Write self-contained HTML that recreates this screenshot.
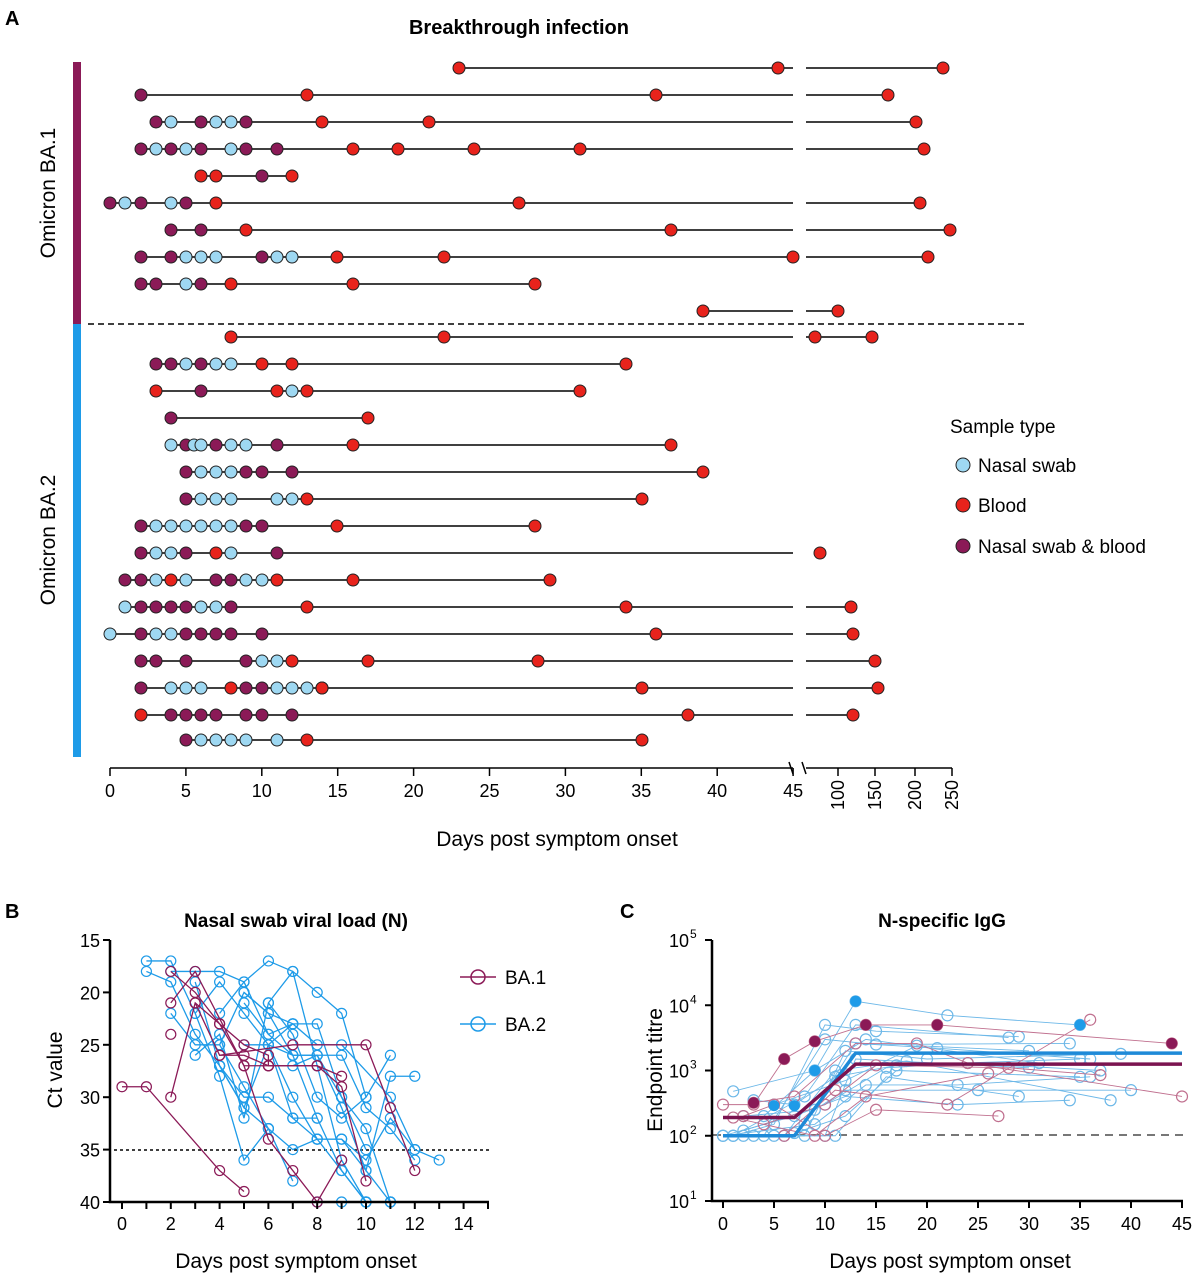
<!DOCTYPE html>
<html><head><meta charset="utf-8"><style>
body{margin:0;background:#fff;width:1197px;height:1279px;overflow:hidden}
svg{font-family:"Liberation Sans",Arial,sans-serif}
</style></head><body>
<svg id="s" width="1197" height="1279" viewBox="0 0 1197 1279" xmlns="http://www.w3.org/2000/svg">
<text x="5" y="25" font-size="20" font-weight="bold">A</text>
<text x="519" y="34" font-size="20" font-weight="bold" text-anchor="middle">Breakthrough infection</text>
<rect x="73" y="62" width="8" height="262" fill="#8B1A57"/>
<rect x="73" y="324" width="8" height="433" fill="#1E9BE8"/>
<text transform="translate(55,193) rotate(-90)" font-size="21" text-anchor="middle">Omicron BA.1</text>
<text transform="translate(55,540) rotate(-90)" font-size="21" text-anchor="middle">Omicron BA.2</text>
<line x1="88" y1="324" x2="1025" y2="324" stroke="#000" stroke-width="1.5" stroke-dasharray="6,4"/>
<g id="A"></g>
<line x1="110" y1="768" x2="793" y2="768" stroke="#000" stroke-width="1.5"/>
<line x1="806" y1="768" x2="952" y2="768" stroke="#000" stroke-width="1.5"/>
<line x1="789" y1="762" x2="793" y2="774" stroke="#000" stroke-width="1.5"/>
<line x1="802" y1="762" x2="806" y2="774" stroke="#000" stroke-width="1.5"/>
<g id="Aticks" font-size="18"></g>
<text x="557" y="846" font-size="21" text-anchor="middle">Days post symptom onset</text>
<text x="950" y="433" font-size="19">Sample type</text>
<circle cx="963" cy="465" r="7" fill="#9ED8F2" stroke="#222"/><text x="978" y="472" font-size="19">Nasal swab</text>
<circle cx="963" cy="505" r="7" fill="#E8231C" stroke="#222"/><text x="978" y="512" font-size="19">Blood</text>
<circle cx="963" cy="546" r="7" fill="#8B1A57" stroke="#222"/><text x="978" y="553" font-size="19">Nasal swab &amp; blood</text>
<text x="5" y="918" font-size="20" font-weight="bold">B</text>
<text x="296" y="927" font-size="19" font-weight="bold" text-anchor="middle">Nasal swab viral load (N)</text>
<text transform="translate(62,1070) rotate(-90)" font-size="21" text-anchor="middle">Ct value</text>
<line x1="489" y1="1150" x2="110" y2="1150" stroke="#000" stroke-width="1.5" stroke-dasharray="3,3"/>
<g id="B"></g>
<path d="M110,940 V1202 H489" fill="none" stroke="#000" stroke-width="2.5"/>
<g id="Bticks" font-size="18"></g>
<text x="296" y="1268" font-size="21" text-anchor="middle">Days post symptom onset</text>
<line x1="460" y1="977" x2="496" y2="977" stroke="#8B1A57" stroke-width="1.5"/><circle cx="478" cy="977" r="7" fill="none" stroke="#8B1A57" stroke-width="1.5"/><text x="505" y="984" font-size="19">BA.1</text>
<line x1="460" y1="1024" x2="496" y2="1024" stroke="#1E9BE8" stroke-width="1.5"/><circle cx="478" cy="1024" r="7" fill="none" stroke="#1E9BE8" stroke-width="1.5"/><text x="505" y="1031" font-size="19">BA.2</text>
<text x="620" y="918" font-size="20" font-weight="bold">C</text>
<text x="942" y="927" font-size="19" font-weight="bold" text-anchor="middle">N-specific IgG</text>
<text transform="translate(662,1070) rotate(-90)" font-size="21" text-anchor="middle">Endpoint titre</text>
<line x1="713" y1="1135" x2="1183" y2="1135" stroke="#777" stroke-width="2" stroke-dasharray="8,6"/>
<g id="C"></g>
<path d="M712,940 V1201 H1183" fill="none" stroke="#000" stroke-width="2.5"/>
<g id="Cticks" font-size="18"></g>
<text x="950" y="1268" font-size="21" text-anchor="middle">Days post symptom onset</text>
</svg>
<script>
var NS="http://www.w3.org/2000/svg";
function el(p,t,a,txt){var e=document.createElementNS(NS,t);for(var k in a)e.setAttribute(k,a[k]);if(txt!=null)e.textContent=txt;p.appendChild(e);return e;}
var col={N:"#9ED8F2",R:"#E8231C",P:"#8B1A57"};
var rows=[
[68,"R459 R778 R943"],
[95,"P141 R307 R656 R888"],
[122,"P156 N171 P201 N216 N231 P246 R322 R429 R916"],
[149,"P141 N156 P171 N186 P201 N231 P246 P277 R353 R398 R474 R580 R924"],
[176,"R201 R216 P262 R292"],
[203,"P110 N125 P141 N171 P186 R216 R519 R920"],
[230,"P171 P201 R246 R671 R950"],
[257,"P141 P171 N186 N201 N216 P262 N277 N292 R337 R444 R793 R928"],
[284,"P141 P156 N186 P201 R231 R353 R535"],
[311,"R703 R838"],
[337,"R231 R444 R815 R872"],
[364,"P156 P171 N186 P201 N216 N231 R262 R292 R626"],
[391,"R156 P201 R277 N292 R307 R580"],
[418,"P171 R368"],
[445,"N171 P186 N194 N201 P216 N231 N246 P277 R353 R671"],
[472,"P186 N201 N216 N231 P246 P262 P292 R703"],
[499,"P186 N201 N216 N231 N277 N292 R307 R642"],
[526,"P141 N156 N171 N186 N201 N216 N231 P246 P262 R337 R535"],
[553,"P141 N156 N171 P186 R216 N231 P277 R820",793],
[580,"P125 P141 N156 R171 N186 P216 P231 N246 N262 R277 R353 R550"],
[607,"N125 P141 P156 P171 P186 N201 N216 P231 R307 R626 R851"],
[634,"N110 P141 N156 N171 P186 P201 P216 P231 P262 R656 R853"],
[661,"P141 P156 P186 P246 N262 N277 R292 R368 R538 R875"],
[688,"P141 N171 N186 N201 R231 P246 P262 N277 N292 N307 N322 R322 R642 R878"],
[715,"R141 P171 P186 P201 P216 P246 P262 P292 R688 R853"],
[740,"P186 N201 N216 N231 N246 N277 R307 R642"]];
var A=document.getElementById("A");
rows.forEach(function(r){var y=r[0];var d=r[1].split(" ").map(function(s){return [s[0],+s.slice(1)]});
var xs=d.map(function(p){return p[1]});var mn=Math.min.apply(0,xs),mx=Math.max.apply(0,xs);
if(r[2]){el(A,"line",{x1:mn,y1:y,x2:r[2],y2:y,stroke:"#000","stroke-width":1.5});}
else if(mx>800){el(A,"line",{x1:mn,y1:y,x2:Math.min(mx,793),y2:y,stroke:"#000","stroke-width":1.5});el(A,"line",{x1:806,y1:y,x2:mx,y2:y,stroke:"#000","stroke-width":1.5});}
else el(A,"line",{x1:mn,y1:y,x2:mx,y2:y,stroke:"#000","stroke-width":1.5});
d.forEach(function(p){el(A,"circle",{cx:p[1],cy:y,r:6,fill:col[p[0]],stroke:"#222","stroke-width":1});});});
var At=document.getElementById("Aticks");
for(var i=0;i<=9;i++){var x=110+i*75.9;el(At,"line",{x1:x,y1:768,x2:x,y2:776,stroke:"#000","stroke-width":1.5});el(At,"text",{x:x,y:797,"text-anchor":"middle"},String(i*5));}
[[838,"100"],[875,"150"],[915,"200"],[952,"250"]].forEach(function(t){el(At,"line",{x1:t[0],y1:768,x2:t[0],y2:776,stroke:"#000","stroke-width":1.5});el(At,"text",{transform:"translate("+(t[0]+6)+",780) rotate(-90)","text-anchor":"end"},t[1]);});
function bx(d){return 122+d*24.4}function by(c){return 940+(c-15)*10.48}
var B=document.getElementById("B");
var bp=[[[0,29],[1,29],[4,37],[5,39]],[[2,30],[3,21],[4,23],[5,25],[6,26],[6,27]],[[2,18],[3,20],[4,23],[5,27],[6,27],[8,27],[9,29],[10,38]],[[2,21],[3,18],[5,27],[6,34],[7,37],[8,40],[9,36]],[[3,21],[4,26],[7,25],[10,25],[11,31],[12,37]],[[4,26],[5,26],[6,27],[8,27],[9,28]],[[2,24]]];
var bb=[[[1,17],[2,17],[3,22],[4,28],[5,36],[6,33]],[[1,18],[2,19],[3,24],[4,27],[5,31],[6,25],[7,23]],[[2,18],[3,18],[4,18],[5,19],[6,24],[7,26],[8,26],[9,30],[10,35]],[[2,22],[3,25],[4,25],[5,29],[6,33],[7,38]],[[3,26],[4,24],[5,32],[6,21],[7,18],[8,20],[9,22],[10,30]],[[3,22],[4,19],[5,22],[6,25],[7,30],[8,34],[9,37],[10,40],[11,40]],[[4,22],[5,19],[6,17],[7,18],[8,27],[9,36],[10,40]],[[4,25],[5,20],[6,22],[7,26],[8,32],[9,37],[10,40]],[[5,21],[6,24],[7,23],[8,23],[9,30],[10,33],[11,40]],[[5,25],[6,25],[7,26],[8,26],[9,31],[10,37],[11,28],[12,28]],[[4,27],[5,31],[6,33],[7,35],[8,34],[9,34],[10,36],[11,32],[12,35],[13,36]],[[6,21],[7,24],[8,30],[9,32],[10,30],[11,26]],[[7,27],[8,26],[9,26],[10,31],[11,33],[12,36]],[[6,25],[7,32],[8,34],[9,34],[10,37],[11,40]],[[3,19],[4,27],[5,30],[6,30],[7,32],[8,32]],[[8,40],[9,40],[10,40]],[[5,20],[6,22],[7,23],[8,25],[9,25],[11,30],[12,35]]];
function poly(g,pts,c,fx,fy,r,w){if(pts.length>1)el(g,"polyline",{points:pts.map(function(p){return fx(p[0])+","+fy(p[1])}).join(" "),fill:"none",stroke:c,"stroke-width":w||1.3});pts.forEach(function(p){el(g,"circle",{cx:fx(p[0]),cy:fy(p[1]),r:r||5,fill:"none",stroke:c,"stroke-width":1.2});});}
bb.forEach(function(l){poly(B,l,"#1E9BE8",bx,by)});bp.forEach(function(l){poly(B,l,"#8B1A57",bx,by)});
var Bt=document.getElementById("Bticks");
for(var i=0;i<=15;i++){var x=bx(i);el(Bt,"line",{x1:x,y1:1202,x2:x,y2:1209,stroke:"#000","stroke-width":2});if(i%2==0)el(Bt,"text",{x:x,y:1230,"text-anchor":"middle"},String(i));}
[15,20,25,30,35,40].forEach(function(c){el(Bt,"line",{x1:103,y1:by(c),x2:110,y2:by(c),stroke:"#000","stroke-width":2});el(Bt,"text",{x:100,y:by(c)+7,"text-anchor":"end"},String(c));});
function cx(d){return 723+d*10.2}function cy(v){return 1201-Math.log10(v)*65.25+65.25}
var C=document.getElementById("C");
var cb=[[[1,100],[5,150],[10,5000],[15,4000],[29,3300]],[[1,480],[9,1000],[13,11500],[22,7000],[35,5000]],[[2,100],[8,100],[12,2000],[20,1500],[39,1800]],[[3,350],[7,300],[11,800],[17,1200],[35,1500]],[[0,100],[9,150],[14,600],[23,600],[36,800]],[[2,120],[10,300],[16,1100],[24,1300],[37,1000]],[[4,100],[10,3000],[15,2500],[34,2600]],[[1,100],[8,400],[13,5000],[28,3200]],[[5,100],[11,100],[16,800],[29,400]],[[2,200],[9,250],[12,500],[25,500],[40,500]],[[3,100],[10,100],[13,1500],[30,1100]],[[6,100],[11,1000],[18,1400],[38,350]],[[0,100],[7,200],[12,400],[23,300],[34,350]],[[4,200],[9,1000],[14,3000],[31,1300]],[[5,300],[12,700],[19,2400],[30,2000]],[[7,110],[12,200],[17,1000],[35,800]],[[8,150],[13,2600],[21,2200],[36,1500]]];
var cp=[[[0,300],[3,300],[6,1500],[9,2800],[14,5000],[21,5000],[44,2600]],[[2,200],[5,300],[10,100],[15,250],[27,200]],[[3,320],[7,400],[13,2600],[19,2600],[24,1300],[45,400]],[[4,150],[10,300],[15,1200],[28,1100],[37,850]],[[6,100],[11,500],[22,300],[36,6000]],[[1,190],[9,100],[14,400],[26,900]]];
cb.forEach(function(l){poly(C,l,"#6DB8E8",cx,cy,5.5,0.9)});cp.forEach(function(l){poly(C,l,"#C0708F",cx,cy,5.5,0.9)});
[[13,11500],[5,290],[7,290],[9,1000],[35,5000]].forEach(function(p){el(C,"circle",{cx:cx(p[0]),cy:cy(p[1]),r:5.5,fill:"#1E9BE8"})});
[[3,320],[6,1500],[9,2800],[14,5000],[21,5000],[44,2600]].forEach(function(p){el(C,"circle",{cx:cx(p[0]),cy:cy(p[1]),r:5.5,fill:"#8B1A57"})});
el(C,"polyline",{points:[[0,100],[7,100],[13,1850],[45,1850]].map(function(p){return cx(p[0])+","+cy(p[1])}).join(" "),fill:"none",stroke:"#1E8AD8","stroke-width":3.5});
el(C,"polyline",{points:[[0,190],[7,190],[13,1250],[45,1250]].map(function(p){return cx(p[0])+","+cy(p[1])}).join(" "),fill:"none",stroke:"#7B1450","stroke-width":3.5});
var Ct=document.getElementById("Cticks");
for(var i=0;i<=9;i++){var x=cx(i*5);el(Ct,"line",{x1:x,y1:1201,x2:x,y2:1208,stroke:"#000","stroke-width":2});el(Ct,"text",{x:x,y:1230,"text-anchor":"middle"},String(i*5));}
for(var e=1;e<=5;e++){var y=cy(Math.pow(10,e));el(Ct,"line",{x1:705,y1:y,x2:712,y2:y,stroke:"#000","stroke-width":2});el(Ct,"text",{x:689,y:y+7,"text-anchor":"end"},"10");el(Ct,"text",{x:690,y:y-2,"font-size":12},String(e));}
</script>
</body></html>
